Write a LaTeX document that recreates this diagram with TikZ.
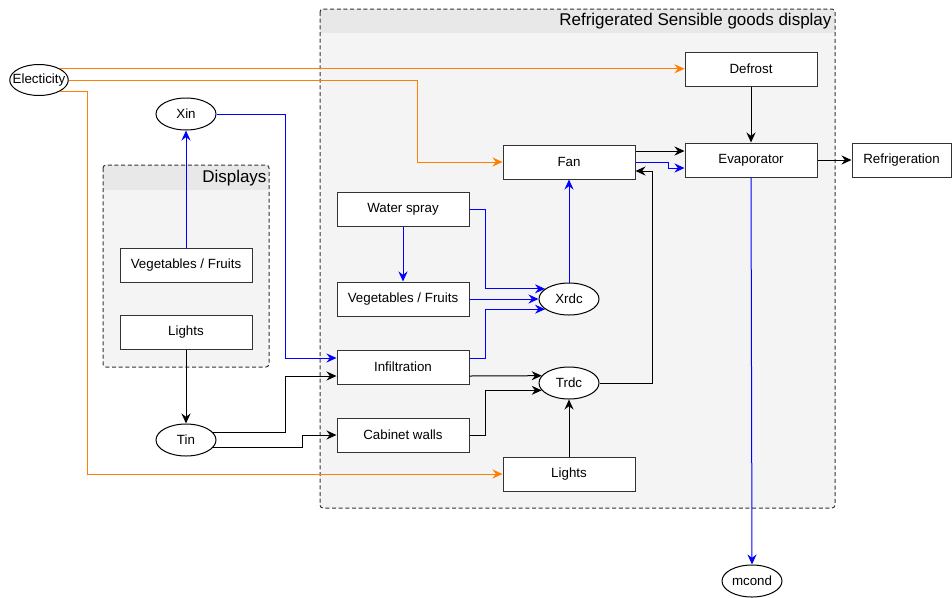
\documentclass[tikz,border=0pt]{standalone}
\usepackage{fontspec}
\setmainfont{Liberation Sans}
\usepackage{tikz}
\usetikzlibrary{arrows.meta,calc,shapes.geometric}
\definecolor{RsgOrange}{HTML}{FF8000}
\definecolor{RsgBlue}{HTML}{0000FF}
\definecolor{RsgEdge}{HTML}{333333}
\definecolor{RsgPanel}{HTML}{F4F4F4}
\definecolor{RsgHead}{HTML}{E8E8E8}

\begin{document}
\begin{tikzpicture}[x=0.75pt,y=-0.75pt,line width=0.75pt,
  box/.style={draw=RsgEdge,fill=white,minimum width=99pt,minimum height=25.5pt,inner sep=0pt,font=\fontsize{10}{12}\selectfont},
  var/.style={ellipse,draw=black,fill=white,minimum width=45pt,minimum height=24pt,inner sep=0pt,font=\fontsize{10}{12}\selectfont},
  panel/.style={draw=RsgEdge,dash pattern=on 3pt off 2pt,rounded corners=2.25pt},
  flow/.style={-{Stealth[length=7.5pt,width=6.75pt,inset=2.5pt]}},
  elecline/.style={flow,RsgOrange},
  moistline/.style={flow,RsgBlue},
  heatline/.style={flow,black}]
  \useasboundingbox[fill=white] (0,0) rectangle (952,597);

  % panels
  \fill[RsgPanel,rounded corners=2.25pt] (320,9) rectangle (835,508);
  \begin{scope}
    \clip[rounded corners=2.25pt] (320,9) rectangle (835,508);
    \fill[RsgHead] (320,9) rectangle (835,33);
  \end{scope}
  \draw[panel] (320,9) rectangle (835,508);
  \node[anchor=east,inner sep=0pt,font=\fontsize{12.75}{15}\selectfont] (rsgtitle) at (832,21) {Refrigerated Sensible goods display};
  \fill[RsgPanel,rounded corners=2.25pt] (103,165) rectangle (269,367);
  \begin{scope}
    \clip[rounded corners=2.25pt] (103,165) rectangle (269,367);
    \fill[RsgHead] (103,165) rectangle (269,190);
  \end{scope}
  \draw[panel] (103,165) rectangle (269,367);
  \node[anchor=east,inner sep=0pt,font=\fontsize{12.75}{15}\selectfont] (disptitle) at (267,178) {Displays};

  % nodes
  \node[var,inner xsep=-4.2pt,minimum width=43.5pt,minimum height=23.25pt] (elec) at (39,80) {Electicity};
  \node[var] (xin) at (186,114) {Xin};
  \node[box] (vegD) at (186,265) {Vegetables / Fruits};
  \node[box] (lightsD) at (186,332) {Lights};
  \node[var] (tin) at (186,440) {Tin};
  \node[box] (defrost) at (751,69) {Defrost};
  \node[box] (fan) at (569,162) {Fan};
  \node[box] (evap) at (751,160) {Evaporator};
  \node[box,minimum width=74.25pt] (refr) at (901.5,160) {Refrigeration};
  \node[box] (water) at (403,209) {Water spray};
  \node[box] (veg) at (403,299) {Vegetables / Fruits};
  \node[var] (xrdc) at (569,299) {Xrdc};
  \node[box] (infil) at (403,367) {Infiltration};
  \node[var] (trdc) at (569,383) {Trdc};
  \node[box] (cab) at (403,435) {Cabinet walls};
  \node[box] (lightsB) at (569,474) {Lights};
  \node[var] (mcond) at (752,581) {mcond};

  % connectors
  \draw[elecline] (elec.28) -- (elec.28 -| defrost.west);
  \draw[elecline] (elec.east) -| ($(fan.west)+(-85,0)$) -- (fan.west);
  \draw[elecline] (elec.-28) -- ++(27,0) |- (lightsB.west);
  \draw[moistline] (vegD.north) -- (xin.south);
  \draw[moistline] (xin.east) -| ($(infil.west)+(-51,-9)$) -- ($(infil.west)+(0,-9)$);
  \draw[heatline] (lightsD.south) -- (tin.north);
  \draw[heatline] (tin.15) -| ($(infil.west)+(-51,9)$) -- ($(infil.west)+(0,9)$);
  \draw[heatline] (tin.-15) -| ($(cab.west)+(-34,0)$) -- (cab.west);
  \draw[moistline] (water.south) -- (veg.north);
  \draw[moistline] (water.east) -| ($(xrdc.157)+(-60,0)$) -- (xrdc.157);
  \draw[moistline] (veg.east) -- (xrdc.west);
  \draw[moistline] ($(infil.east)+(0,-9)$) -| ($(xrdc.203)+(-60,0)$) -- (xrdc.203);
  \draw[heatline] ($(infil.east)+(0,9)$) -- (trdc.165);
  \draw[heatline] (cab.east) -| ($(trdc.195)+(-56,0)$) -- (trdc.195);
  \draw[heatline] (lightsB.north) -- (trdc.south);
  \draw[moistline] (xrdc.north) -- (fan.south);
  \draw[heatline] (trdc.east) -| ($(fan.east)+(17,9)$) -- ($(fan.east)+(0,9)$);
  \draw[heatline] ($(fan.east)+(0,-11)$) -- ($(evap.west)+(0,-9)$);
  \draw[moistline] (fan.east) -| ($(evap.west)+(-16,8)$) -- ($(evap.west)+(0,8)$);
  \draw[heatline] (defrost.south) -- (evap.north);
  \draw[heatline] (evap.east) -- (refr.west);
  \draw[moistline] (evap.south) -- (mcond.north);
\end{tikzpicture}
\end{document}
